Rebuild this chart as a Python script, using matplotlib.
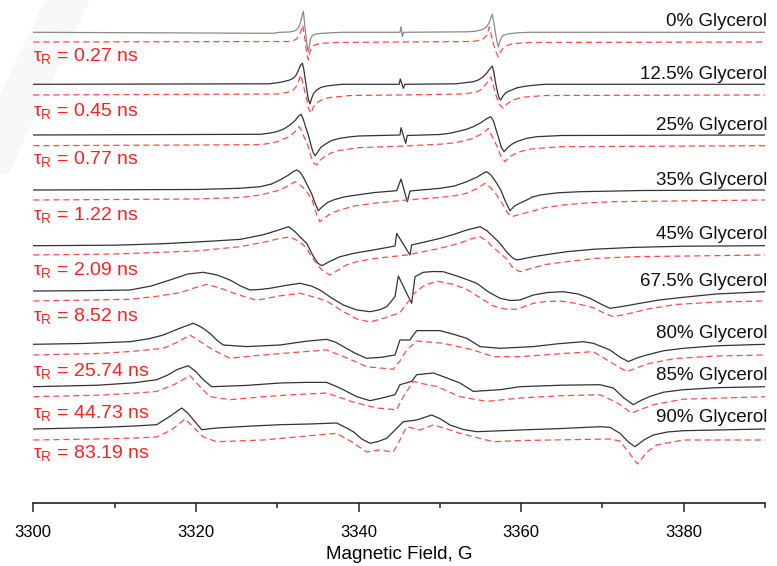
import matplotlib
matplotlib.use('Agg')
import matplotlib.pyplot as plt
from matplotlib.patches import Polygon
from matplotlib.ticker import MultipleLocator

plt.rcParams['font.family'] = ['Liberation Sans', 'DejaVu Sans']
plt.rcParams['mathtext.default'] = 'regular'

# field offsets from 3300 G and deflections (arb. units)
exp0_b = [0, 29.5, 30.3, 31.5, 32.0, 32.4, 32.7, 32.95, 33.1, 33.21, 33.3, 33.42, 33.51, 33.65, 33.83,
          33.95, 34.1, 34.24, 34.6, 35.26, 36.5, 38, 45.1, 45.23, 45.39, 45.55,
          53.5, 54.5, 55.3, 55.77, 56.1, 56.35, 56.46, 56.6, 56.8, 57.0, 57.2, 57.4, 57.6, 57.81,
          58.5, 59.45, 61, 90]
exp0_y = [0, -1, 0, 0.3, 1, 2.5, 6, 12, 18, 21, 15, 5, -2, -12, -19.7,
          -14, -7, -4, -2, -1.2, -0.5, 0, 0, 5.6, -4.4, 0,
          0.5, 1.2, 3, 5.6, 10, 16, 18, 12, 2, -8, -14.7, -9, -5, -3,
          -1.5, -0.6, 0, 0]
sim0_b = [0, 31.5, 32.0, 32.4, 32.7, 32.95, 33.14, 33.3, 33.5, 33.65, 33.83, 34.0, 34.2, 34.6, 35.3,
          37, 45, 54, 55, 55.5, 55.8, 56.0, 56.09, 56.3, 56.6, 56.9, 57.2, 57.45, 57.8, 58.3,
          58.8, 60, 61, 90]
sim0_y = [0, 0.5, 1.5, 3, 6, 12, 17, 9, -2, -12, -18, -11, -6, -3, -1.5,
          -0.5, 0, 0.5, 2, 4, 7, 12, 15, 8, -2, -10, -15, -10, -6, -3.5,
          -2, -1, -0.5, 0]

exp1_b = [0, 29, 30.0, 30.75, 31.5, 31.98, 32.35, 32.6, 32.9, 33.09, 33.25, 33.45, 33.6, 33.8, 34.03,
          34.2, 34.45, 34.86, 35.4, 36.09, 37, 38, 45.0, 45.14, 45.51, 45.7,
          52, 53.0, 54.12, 54.8, 55.35, 55.8, 56.2, 56.46, 56.65, 56.85, 57.1, 57.3, 57.49, 57.75,
          58.1, 58.63, 59.5, 60.69, 62, 63, 90]
exp1_y = [0, 0.5, 1.5, 2.6, 4.2, 6, 9.5, 14, 19.5, 21, 16, 5, -3, -14, -19.7,
          -15, -9.5, -5.7, -3, -1.7, -0.8, 0, 0, 5.3, -4, 0,
          0.5, 1.5, 2.6, 4.5, 7.6, 11.5, 16, 18.3, 12, 2, -8, -14, -15.7, -12,
          -8.5, -6.4, -3.5, -1.7, -0.6, 0, 0]
sim1_b = [0, 30, 31.5, 32.0, 32.3, 32.6, 32.89, 33.1, 33.35, 33.6, 33.85, 34.16, 34.4, 34.7, 35,
          35.7, 36.5, 39, 45, 53, 54.5, 55.0, 55.4, 55.9, 56.3, 56.5, 56.9, 57.3, 57.81, 58.2,
          58.8, 59.6, 60.5, 63, 90]
sim1_y = [0, 1, 3, 5, 8, 13, 20, 14, 5, -3, -13, -18.3, -13, -9, -7,
          -4, -2.5, -0.5, 0, 1, 3, 5, 8, 13, 18, 12, 0, -9, -13.3, -9.5,
          -6, -3.5, -2, -0.5, 0]

exp2_b = [0, 27.9, 29.0, 29.94, 30.8, 31.57, 32.2, 32.65, 32.93, 33.2, 33.5, 33.83, 34.15, 34.4, 34.65,
          34.95, 35.4, 36.09, 36.8, 37.72, 38.8, 40, 45.1, 45.23, 45.81, 46.0,
          50, 51.2, 52.08, 53.2, 54.12, 55.0, 55.7, 56.26, 56.6, 56.9, 57.2, 57.55, 57.9, 58.3,
          58.8, 59.45, 60.6, 61.92, 65, 90]
exp2_y = [0, 0.7, 1.8, 3.3, 6, 10, 14.5, 19, 20.7, 16, 8, 0, -10, -17, -20.7,
          -17.5, -12, -8.3, -5.2, -3.3, -2, -1, 0, 7.3, -8.3, -0.5,
          0.5, 1.7, 3.3, 5.5, 8.3, 12, 16, 18.3, 14, 6, -2, -12, -16.7, -13,
          -9.5, -6.7, -3.5, -1.7, -0.5, 0]
sim2_b = [0, 28, 29, 30, 31.5, 32.2, 32.72, 33.0, 33.4, 33.8, 34.2, 34.5, 34.86, 35.3, 36,
          36.7, 37.5, 40, 45, 50, 52, 54, 55.2, 55.97, 56.4, 57, 57.5, 58.02, 58.5, 59.5,
          60.5, 61.5, 65, 90]
sim2_y = [0, 1, 2.3, 4, 9, 14, 19, 15, 7, 0, -12, -17.5, -19.3, -14.5, -10,
          -7, -5, -2, -0.5, 1.5, 3, 7, 12, 17.3, 10, 0, -10, -16, -11.5, -7,
          -4.5, -3, -1, 0]

exp3_b = [0, 20, 25.4, 27.9, 29.3, 30.34, 31.4, 32.0, 32.4, 32.8, 33.2, 33.7, 34.2, 34.6, 35.06,
          35.5, 36.2, 36.9, 38.2, 39.78, 42, 44.7, 45.23, 46.0, 46.33,
          50.02, 51.8, 53.31, 54.6, 55.4, 55.77, 56.3, 56.9, 57.5, 58.0, 58.63, 59.2, 60.0, 60.69,
          61.4, 62.32, 64.5, 67.24, 75, 90]
exp3_y = [0, 0.5, 1.7, 3.3, 6, 10, 15, 18.5, 20, 18, 13, 5, -3, -12, -20.7,
          -17, -12.5, -10, -7, -5, -2.5, -0.7, 11, -11.7, -1,
          1.7, 4, 8.3, 13, 17, 18.3, 15, 8, 0, -10, -20.7, -16, -12.5, -10,
          -7, -5, -2.8, -1.7, -0.5, 0]
sim3_b = [0, 20, 25.4, 28, 30.3, 31.3, 32.19, 32.8, 33.5, 34.3, 34.8, 35.26, 35.8, 36.7, 37.72,
          39.5, 41.82, 45.93, 50, 51.8, 53.31, 54.6, 55.56, 56.3, 57, 57.8, 58.3, 58.84, 59.8, 61.1,
          63, 65.19, 68, 71.34, 90]
sim3_y = [0, 1, 2.5, 5, 10, 14, 18.3, 15, 10, 0, -13, -21.7, -18, -13, -10,
          -6, -3.3, 0, 2.5, 4.2, 6.7, 11.5, 16.7, 12, 5, -5, -12.5, -16.7, -14.5, -11.7,
          -7.5, -5, -3, -1.7, 0]

exp4_b = [0, 10, 16, 20.71, 25.42, 28.3, 30.3, 31.4, 32.2, 32.9, 33.63, 34.4, 35.0, 35.5, 36.4,
          37.72, 39.5, 41.82, 44.49, 44.7, 46.33, 46.54,
          48.3, 50.02, 51.8, 53.31, 54.95, 55.8, 56.7, 57.4, 58.3, 59.0, 59.46, 60.3, 61.5,
          63.5, 65.61, 69, 73.8, 80, 90]
exp4_y = [0, 0.5, 2, 4, 6.3, 11, 16, 19, 14, 8, 2.3, -10, -17.5, -20, -16,
          -11, -7.5, -4.3, -0.3, 12.3, -9.3, 0.7,
          4, 7.3, 11.5, 15.7, 19, 15, 8, 2.3, -7, -12.5, -14.3, -13, -11,
          -8.5, -6, -3.5, -1.7, -0.5, 0]
sim4_b = [0, 10, 20, 25.42, 28.5, 30.3, 31.57, 32.6, 33.5, 34.5, 35.5, 36.49, 37.5, 38.5, 39.78,
          42, 45.93, 50.02, 52.5, 53.8, 54.95, 55.8, 56.5, 57.4, 58.23, 59.0, 59.86, 61, 63,
          65.61, 69, 73.8, 90]
sim4_y = [0, 1, 4, 8.3, 13, 16.5, 18, 14, 8, -5, -15, -20, -15, -10, -6.7,
          -3.5, 0, 6.7, 12, 16, 18.3, 14, 8, 2, -4, -13, -16.7, -14, -9.5,
          -6.7, -3.5, -1.7, 0]

exp5_b = [0, 6, 11.89, 14.5, 16.81, 19.0, 20.91, 22.6, 24.19, 25.5, 26.65, 27.8, 29.11, 31.0, 32.8,
          34.2, 35.26, 36.7, 38.13, 39.8, 41.41, 42.5, 43.47, 44.49, 44.90, 45.93, 46.54, 46.95,
          47.97, 49.2, 50.43, 52.5, 54.54, 56.0, 57.4, 58.7, 59.86, 61.5, 63.3, 65.19, 67.0,
          68.47, 69.8, 70.93, 72.8, 74.62, 77, 79.95, 84, 90]
exp5_y = [0, 0.3, 1, 5, 11, 17, 18.7, 16, 11, 5, 1, 1.5, 2.7, 5.5, 7.7,
          5, 1, -7, -14, -19, -20.7, -19, -15.7, -5.7, 15, -2.3, -12.3, 14.3,
          18.7, 19.5, 19.3, 14, 7.7, -1, -7.3, -9.5, -9, -4, -1.5, -0.7, -3,
          -7.3, -13, -17.3, -15, -12.3, -9, -6.3, -3, -0.7]
sim5_b = [0, 11.89, 15, 18.04, 19.8, 21.33, 23.3, 25.02, 27.48, 30.2, 32.8, 34.5, 36.09, 38, 39.8,
          41.41, 43.2, 45.1, 46.0, 46.74, 48.0, 49.62, 51.5, 53.31, 55.0, 56.58, 58.0, 59.46,
          61.5, 63.0, 64.78, 66.8, 68.88, 70.2, 71.34, 73.3, 75.45, 79, 84, 90]
sim5_y = [0, 1.7, 4.5, 8.3, 13, 16.7, 12, 6.7, 0.7, 5, 7.7, 4, 0, -10, -18,
          -21, -17, -11.7, -2, 6.7, 15, 20, 17, 11.7, 3, -5, -8, -8.3,
          -2.3, -0.5, 0, -2.5, -6.7, -12, -15.7, -12.5, -8.3, -3.5, -1, 0]

exp6_b = [0, 6, 11.89, 14.2, 15.99, 18.0, 19.68, 20.7, 21.73, 22.6, 23.37, 26.25, 30.34, 33.5, 36.09,
          37.2, 38.13, 39.6, 41.01, 42.8, 44.49, 45.1, 46.33, 46.74, 47.16, 50.02, 51.7, 53.31,
          54.95, 57.4, 61.5, 64.5, 67.65, 68.88, 70.93, 72.2, 73.19, 74.3, 75.45, 77.5, 79.95,
          84, 90]
exp6_y = [0, 0.8, 2.6, 5.5, 9.3, 16, 21, 17, 11, 4, -0.7, -2.3, -0.7, 3, 5,
          2, -2.3, -9, -14, -13, -10.7, 4.3, 4.3, 9.3, 13.7, 13.7, 10, 6,
          -2.3, -4, -2.3, 0.5, 2.6, 1, -5.7, -13, -17.3, -13.5, -10.7, -6.5, -4,
          -1.5, 0]
sim6_b = [0, 8, 12, 15.99, 17.8, 19.27, 20.6, 22.14, 24.19, 26.3, 28.29, 32, 36.09, 38.6, 41.01,
          44.28, 45.1, 45.93, 47.16, 50.43, 54.12, 56.58, 59.86, 65.61, 68.88, 70.93, 72.99,
          74.5, 75.85, 79, 84, 90]
sim6_y = [0, 1.5, 3.5, 6.7, 13, 20, 13, 5, -3.3, -1.5, 0, 2.5, 5, -3, -11.7,
          -14.3, -6, 5, 14, 11.7, 5, -1.7, -1.7, 1.7, 3.3, -6.7, -16.7,
          -12, -8.3, -3.5, -1, 0]

exp7_b = [0, 8, 12.5, 15.18, 16.5, 17.64, 19.07, 20.0, 20.91, 21.94, 26.25, 30.34, 33.5, 36.09, 37.2,
          38.13, 39.8, 41.41, 42.8, 44.49, 45.1, 46.54, 47.16, 49.2, 50.8, 52.48, 54.12, 57.4,
          59.86, 65, 69.7, 71.34, 72.6, 73.8, 74.8, 75.85, 77.5, 79.95, 84, 90]
exp7_y = [0, 1.5, 4, 7, 11.5, 17, 21, 15, 7, 0, 1.3, 3.7, 4.3, 4.3, 0.5,
          -3, -10, -14, -11.5, -8, 2, 5.3, 12, 13.7, 9, 3.7, -4.7, -3,
          0, 1.5, 2, -1.3, -11, -18, -13.5, -9.7, -5.5, -3, -1, 0]
sim7_b = [0, 8, 12.5, 15.18, 17.3, 19.27, 20.5, 21.73, 24.19, 28.29, 32, 36.09, 39.2, 42.24, 44.7,
          45.51, 46.74, 48.2, 49.62, 52.48, 55.77, 59.86, 65, 69.7, 71.8, 73.6, 76.26, 80, 90]
sim7_y = [0, 1.5, 3.5, 5.3, 12, 21, 10, 0, -3, 0, 2, 3.7, -5, -11.3, -13,
          0, 15.3, 12.5, 10.3, 0, -4.7, -1.3, 1, 2, -6, -16.3, -8, -2.5, 0]

exp8_b = [0, 8, 12.5, 15.18, 16.81, 18.25, 19.0, 19.68, 20.71, 22.56, 26.5, 30.34, 34, 37.32, 38.3,
          39.36, 40.4, 41.41, 42.4, 43.47, 44.49, 45.51, 47.16, 49.0, 50.1, 51.25, 52.9, 54.54,
          59.86, 65, 69.7, 70.93, 72.16, 73.2, 74.01, 75.1, 76.26, 78, 79.95, 90]
exp8_y = [0, 1.5, 3, 4.3, 12.7, 21, 16, 9.3, -0.7, 1, 2.8, 4.3, 5, 6, 2,
          -2.7, -10, -14.3, -12.5, -9.3, -1, 7.3, 9, 14, 10, 4, -0.5, -2.7,
          -1, 0.5, 2.3, 1.7, -4.3, -13, -17.7, -11, -6, -3, -1.7, 0]
sim8_b = [0, 8, 12.5, 15.18, 17, 18.66, 19.8, 20.91, 22.56, 25, 28.29, 33, 37.32, 39.2, 41.01,
          42.5, 44.28, 45.1, 45.93, 47.56, 49.2, 50.9, 52.48, 56.58, 60, 70.93, 72.16, 73.3,
          74.32, 75.5, 76.68, 79.95, 90]
sim8_y = [0, 1, 2, 3, 10, 21, 12, 3, -1.7, -1, 0, 3.5, 6.7, -2, -12,
          -10, -12, 0, 13.3, 10, 15, 11, 6.7, -1.7, -0.5, 1, -1, -13,
          -24, -12, -5, 0, 0]

glycerol = ['0%', '12.5%', '25%', '35%', '45%', '67.5%', '80%', '85%', '90%']
tau_r = ['0.27', '0.45', '0.77', '1.22', '2.09', '8.52', '25.74', '44.73', '83.19']

exp_b = [exp0_b, exp1_b, exp2_b, exp3_b, exp4_b, exp5_b, exp6_b, exp7_b, exp8_b]
exp_y = [exp0_y, exp1_y, exp2_y, exp3_y, exp4_y, exp5_y, exp6_y, exp7_y, exp8_y]
sim_b = [sim0_b, sim1_b, sim2_b, sim3_b, sim4_b, sim5_b, sim6_b, sim7_b, sim8_b]
sim_y = [sim0_y, sim1_y, sim2_y, sim3_y, sim4_y, sim5_y, sim6_y, sim7_y, sim8_y]

# stacking (measured downward from the top of the axes)
exp_base = [32.3, 84.3, 135, 190, 245.7, 291, 344.3, 386.7, 429]
sim_base = [42, 95, 145.7, 200, 255, 301, 355, 396.7, 440]
name_y = [21, 74, 125, 180, 234, 281, 334, 375, 417]
tau_y = [56, 111, 159, 215, 270, 316, 371, 413, 453]
top = 503

fig = plt.figure(figsize=(7.77, 5.66), dpi=100)

# faint watermark in the corner
fig.patches.append(Polygon([(45 / 777, 1), (90 / 777, 1), (8 / 777, 1 - 175 / 566), (0, 1 - 175 / 566),
                            (0, 1 - 95 / 566)], closed=True, transform=fig.transFigure,
                           facecolor='#f8f8f8', edgecolor='none', zorder=-5))

ax = fig.add_axes([33.3 / 777, (566 - 503) / 566, (765 - 33.3) / 777, 503 / 566])
ax.patch.set_alpha(0)

for i in range(9):
    xb = [3300 + v for v in exp_b[i]]
    yb = [top - exp_base[i] + v for v in exp_y[i]]
    xs = [3300 + v for v in sim_b[i]]
    ys = [top - sim_base[i] + v for v in sim_y[i]]
    col = '#8a8a8a' if i == 0 else '#333333'
    ax.plot(xb, yb, color=col, lw=0.9)
    ax.plot(xs, ys, color='#ff4a4a', lw=0.9, ls=(0, (5, 3)))
    ax.text(3390.3, top - name_y[i], glycerol[i] + ' Glycerol', ha='right', va='center',
            fontsize=13.5, color='#111111')
    ax.text(3300, top - tau_y[i], 'τ$_{R}$ = ' + tau_r[i] + ' ns', ha='left', va='center',
            fontsize=14, color='#ff2020')

ax.set_xlim(3300, 3390)
ax.set_ylim(0, top)
for s in ['left', 'right', 'top']:
    ax.spines[s].set_visible(False)
ax.spines['bottom'].set_linewidth(1.2)
ax.spines['bottom'].set_color('#222222')
ax.set_yticks([])
ax.xaxis.set_major_locator(MultipleLocator(20))
ax.xaxis.set_minor_locator(MultipleLocator(10))
ax.tick_params(axis='x', which='major', length=6.5, width=1.1, labelsize=12, color='#222222', pad=9)
ax.tick_params(axis='x', which='minor', length=3.3, width=1.1, color='#222222')
ax.set_xlabel('Magnetic Field, G', fontsize=13.5, labelpad=5)

fig.savefig('out.png', dpi=100)
